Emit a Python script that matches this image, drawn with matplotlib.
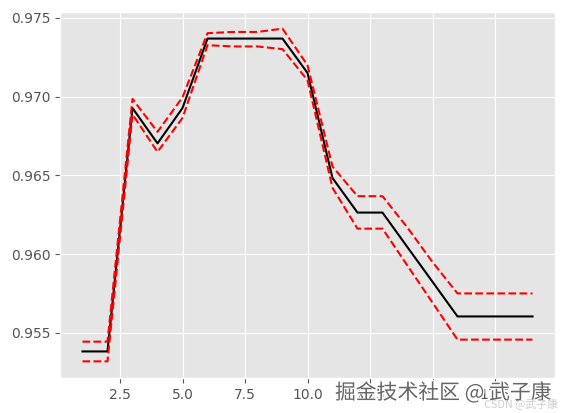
import matplotlib
matplotlib.use('Agg')
import matplotlib.pyplot as plt
import matplotlib.patheffects as pe

plt.style.use('ggplot')

# x positions (1..19) and mean / upper / lower curves
x_vals = list(range(1, 20))
mean_vals = [0.95383, 0.95383, 0.96927, 0.96703, 0.96927, 0.97368, 0.97368,
             0.97368, 0.97368, 0.97150, 0.96483, 0.96264, 0.96264, 0.96044,
             0.95825, 0.95605, 0.95605, 0.95605, 0.95605]
upper_vals = [0.95445, 0.95445, 0.96985, 0.96776, 0.96995, 0.97402, 0.97410,
              0.97410, 0.97431, 0.97199, 0.96556, 0.96368, 0.96368, 0.96168,
              0.95950, 0.95751, 0.95751, 0.95751, 0.95751]
lower_vals = [0.95320, 0.95320, 0.96887, 0.96649, 0.96864, 0.97326, 0.97318,
              0.97318, 0.97301, 0.97104, 0.96421, 0.96162, 0.96162, 0.95927,
              0.95693, 0.95458, 0.95458, 0.95458, 0.95458]

fig = plt.figure(figsize=(5.65, 4.13), dpi=100)
ax = fig.add_subplot(111)
fig.subplots_adjust(left=60/565, right=555/565, top=1-12/413, bottom=1-378/413)

ax.plot(x_vals, mean_vals, color='black', linewidth=1.5)
ax.plot(x_vals, upper_vals, color='red', linestyle='--', linewidth=1.5)
ax.plot(x_vals, lower_vals, color='red', linestyle='--', linewidth=1.5)

ax.set_yticks([0.955, 0.960, 0.965, 0.970, 0.975])
ax.set_xticks([2.5, 5.0, 7.5, 10.0, 12.5, 15.0, 17.5])

# watermarks (they sit over the x tick labels, as in the original)
fig.text(335/565, 1-399/413, '掘金技术社区 @ 武子康', fontsize=15,
         family=['Noto Sans CJK SC', 'DejaVu Sans'], color='#666666',
         path_effects=[pe.withStroke(linewidth=2, foreground='white')])
fig.text(484/565, 1-408/413, 'CSDN @武子康', fontsize=7.8,
         family=['Noto Sans CJK SC', 'DejaVu Sans'], color='#cccccc')

fig.savefig('out.png', dpi=100)
